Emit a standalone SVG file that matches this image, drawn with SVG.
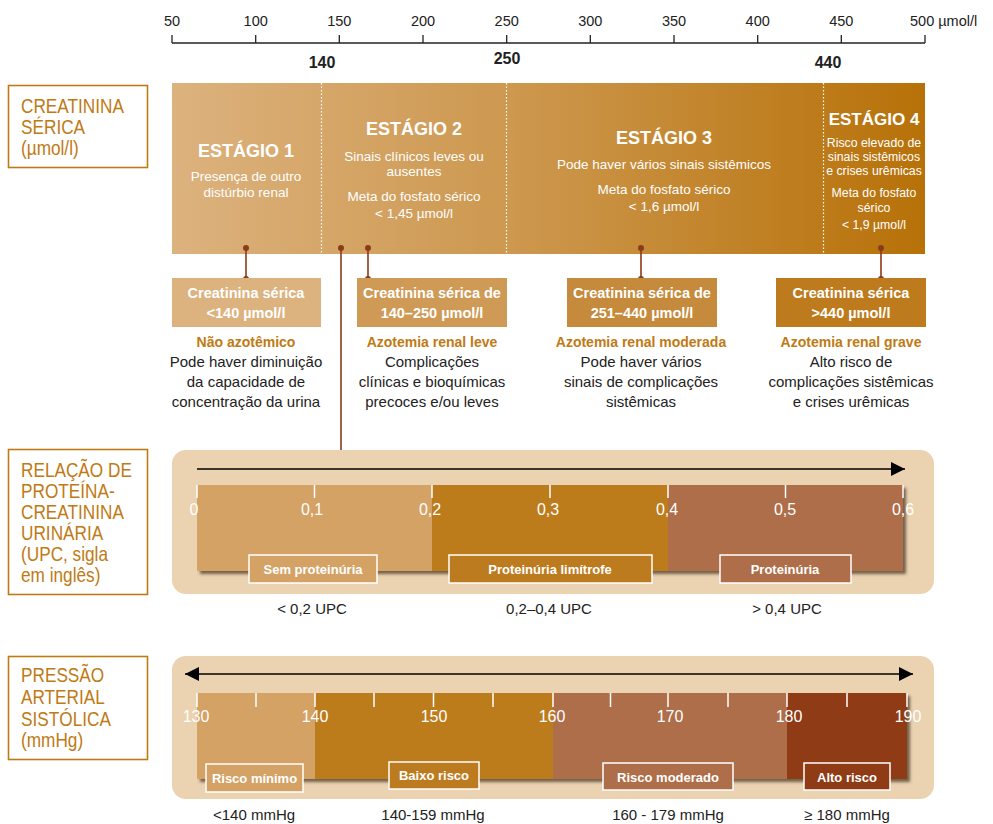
<svg xmlns="http://www.w3.org/2000/svg" width="993" height="824" viewBox="0 0 993 824">
<defs>
<linearGradient id="stg" x1="172" y1="0" x2="925" y2="0" gradientUnits="userSpaceOnUse">
<stop offset="0" stop-color="#dcb27e"/>
<stop offset="0.45" stop-color="#cd984f"/>
<stop offset="1" stop-color="#b77108"/>
</linearGradient>
<filter id="sh" x="-5%" y="-10%" width="115%" height="130%">
<feDropShadow dx="3" dy="3" stdDeviation="1.5" flood-color="#4a3a2a" flood-opacity="0.75"/>
</filter>
<marker id="ah" viewBox="0 0 10 10" refX="10" refY="5" markerWidth="18" markerHeight="14" markerUnits="userSpaceOnUse" orient="auto-start-reverse">
<path d="M0,0 L10,5 L0,10 z" fill="#000"/>
</marker>
</defs>
<style>
text{font-family:"Liberation Sans",Arial,sans-serif;}
.ax{font-size:14.5px;fill:#222;text-anchor:middle;}
.axb{font-size:16px;font-weight:bold;fill:#222;text-anchor:middle;}
.lbl{font-size:21px;fill:#c07a14;}
.lbox{fill:#fff;stroke:#c07a14;stroke-width:1.6;}
.sh{font-size:18px;font-weight:bold;fill:#fff;text-anchor:middle;}
.st{font-size:13.5px;fill:#fff;text-anchor:middle;}
.st4{font-size:12.3px;fill:#fff;text-anchor:middle;}
.bt{font-size:14.5px;font-weight:bold;fill:#fff;text-anchor:middle;}
.ti{font-size:14px;font-weight:bold;fill:#c07a14;text-anchor:middle;}
.bd{font-size:15px;fill:#222;text-anchor:middle;}
.num{font-size:16px;fill:#fff;text-anchor:middle;}
.tag{font-size:13px;font-weight:bold;fill:#fff;text-anchor:middle;}
.tagr{stroke:#fff;stroke-width:1.5;}
.und{font-size:15px;fill:#222;text-anchor:middle;}
.tk{stroke:#fff;stroke-width:1.5;}
.con{stroke:#8b3a1a;stroke-width:1.6;fill:none;}
.dot{fill:#8b3a1a;}
.div{stroke:#fff;stroke-width:1.2;stroke-dasharray:1.5 2;}
</style>

<!-- top axis -->
<g id="axis">
<line x1="172" y1="43" x2="925" y2="43" stroke="#222" stroke-width="1.3"/>
<g stroke="#222" stroke-width="1.3">
<line x1="172" y1="35" x2="172" y2="43"/><line x1="255.7" y1="35" x2="255.7" y2="43"/><line x1="339.3" y1="35" x2="339.3" y2="43"/><line x1="423" y1="35" x2="423" y2="43"/><line x1="506.7" y1="35" x2="506.7" y2="43"/><line x1="590.3" y1="35" x2="590.3" y2="43"/><line x1="674" y1="35" x2="674" y2="43"/><line x1="757.7" y1="35" x2="757.7" y2="43"/><line x1="841.3" y1="35" x2="841.3" y2="43"/><line x1="925" y1="35" x2="925" y2="43"/>
</g>
<text class="ax" x="172" y="26">50</text><text class="ax" x="255.7" y="26">100</text><text class="ax" x="339.3" y="26">150</text><text class="ax" x="423" y="26">200</text><text class="ax" x="506.7" y="26">250</text><text class="ax" x="590.3" y="26">300</text><text class="ax" x="674" y="26">350</text><text class="ax" x="757.7" y="26">400</text><text class="ax" x="841.3" y="26">450</text>
<text x="910" y="26" style="font-size:14.5px;fill:#222;">500 µmol/l</text>
<text class="axb" x="322" y="68">140</text>
<text class="axb" x="507" y="64">250</text>
<text class="axb" x="828" y="68">440</text>
</g>

<!-- left labels -->
<g id="label-creatinina">
<rect class="lbox" x="8.5" y="85.5" width="139" height="82"/>
<text class="lbl" transform="translate(21,113) scale(0.82,1)">CREATININA</text>
<text class="lbl" transform="translate(21,134) scale(0.82,1)">SÉRICA</text>
<text class="lbl" transform="translate(21,155) scale(0.82,1)">(µmol/l)</text>
</g>
<g id="label-upc">
<rect class="lbox" x="8.5" y="449.5" width="139" height="145"/>
<text class="lbl" transform="translate(21,477) scale(0.82,1)">RELAÇÃO DE</text>
<text class="lbl" transform="translate(21,498) scale(0.82,1)">PROTEÍNA-</text>
<text class="lbl" transform="translate(21,519) scale(0.82,1)">CREATININA</text>
<text class="lbl" transform="translate(21,540) scale(0.82,1)">URINÁRIA</text>
<text class="lbl" transform="translate(21,561) scale(0.82,1)">(UPC, sigla</text>
<text class="lbl" transform="translate(21,582) scale(0.82,1)">em inglês)</text>
</g>
<g id="label-pressao">
<rect class="lbox" x="8.5" y="656.5" width="139" height="103"/>
<text class="lbl" transform="translate(21,682) scale(0.82,1)">PRESSÃO</text>
<text class="lbl" transform="translate(21,704) scale(0.82,1)">ARTERIAL</text>
<text class="lbl" transform="translate(21,726) scale(0.82,1)">SISTÓLICA</text>
<text class="lbl" transform="translate(21,747) scale(0.82,1)">(mmHg)</text>
</g>

<!-- stage bar -->
<g id="stages">
<rect x="172" y="83" width="753" height="171" fill="url(#stg)"/>
<line class="div" x1="321.5" y1="83" x2="321.5" y2="254"/>
<line class="div" x1="506.5" y1="83" x2="506.5" y2="254"/>
<line class="div" x1="823.5" y1="83" x2="823.5" y2="254"/>
</g>
<g id="stage1">
<text class="sh" x="246" y="157">ESTÁGIO 1</text>
<text class="st" x="246" y="181">Presença de outro</text>
<text class="st" x="246" y="197">distúrbio renal</text>
</g>
<g id="stage2">
<text class="sh" x="414" y="135">ESTÁGIO 2</text>
<text class="st" x="414" y="161">Sinais clínicos leves ou</text>
<text class="st" x="414" y="176">ausentes</text>
<text class="st" x="414" y="201">Meta do fosfato sérico</text>
<text class="st" x="414" y="218">&lt; 1,45 µmol/l</text>
</g>
<g id="stage3">
<text class="sh" x="664" y="144">ESTÁGIO 3</text>
<text class="st" x="664" y="169">Pode haver vários sinais sistêmicos</text>
<text class="st" x="664" y="194">Meta do fosfato sérico</text>
<text class="st" x="664" y="211">&lt; 1,6 µmol/l</text>
</g>
<g id="stage4">
<text class="sh" x="874" y="125" style="font-size:17px">ESTÁGIO 4</text>
<text class="st4" x="874" y="147">Risco elevado de</text>
<text class="st4" x="874" y="161">sinais sistêmicos</text>
<text class="st4" x="874" y="175">e crises urêmicas</text>
<text class="st4" x="874" y="197">Meta do fosfato</text>
<text class="st4" x="874" y="212">sérico</text>
<text class="st4" x="874" y="229">&lt; 1,9 µmol/l</text>
</g>

<!-- connectors -->
<g id="connectors">
<line class="con" x1="246" y1="248" x2="246" y2="279"/>
<line class="con" x1="368" y1="248" x2="368" y2="279"/>
<line class="con" x1="641" y1="248" x2="641" y2="279"/>
<line class="con" x1="881" y1="248" x2="881" y2="279"/>
<line class="con" x1="341" y1="248" x2="341" y2="450"/>
<circle class="dot" cx="246" cy="248" r="3"/><circle class="dot" cx="246" cy="279" r="3"/>
<circle class="dot" cx="368" cy="248" r="3"/><circle class="dot" cx="368" cy="279" r="3"/>
<circle class="dot" cx="641" cy="248" r="3"/><circle class="dot" cx="641" cy="279" r="3"/>
<circle class="dot" cx="881" cy="248" r="3"/><circle class="dot" cx="881" cy="279" r="3"/>
<circle class="dot" cx="341" cy="248" r="3"/>
</g>

<!-- creatinine boxes -->
<g id="box1">
<rect x="172" y="278" width="149" height="49" fill="#dcb27e"/>
<text class="bt" x="246" y="298">Creatinina sérica</text>
<text class="bt" x="246" y="318">&lt;140 µmol/l</text>
<text class="ti" x="246" y="347">Não azotêmico</text>
<text class="bd" x="246" y="367">Pode haver diminuição</text>
<text class="bd" x="246" y="387">da capacidade de</text>
<text class="bd" x="246" y="407">concentração da urina</text>
</g>
<g id="box2">
<rect x="357" y="278" width="150" height="49" fill="#cf9a56"/>
<text class="bt" x="432" y="298">Creatinina sérica de</text>
<text class="bt" x="432" y="318">140–250 µmol/l</text>
<text class="ti" x="432" y="347">Azotemia renal leve</text>
<text class="bd" x="432" y="367">Complicações</text>
<text class="bd" x="432" y="387">clínicas e bioquímicas</text>
<text class="bd" x="432" y="407">precoces e/ou leves</text>
</g>
<g id="box3">
<rect x="567" y="278" width="150" height="49" fill="#c58a3b"/>
<text class="bt" x="642" y="298">Creatinina sérica de</text>
<text class="bt" x="642" y="318">251–440 µmol/l</text>
<text class="ti" x="641" y="347">Azotemia renal moderada</text>
<text class="bd" x="641" y="367">Pode haver vários</text>
<text class="bd" x="641" y="387">sinais de complicações</text>
<text class="bd" x="641" y="407">sistêmicas</text>
</g>
<g id="box4">
<rect x="776" y="278" width="150" height="49" fill="#bd7b1d"/>
<text class="bt" x="851" y="298">Creatinina sérica</text>
<text class="bt" x="851" y="318">&gt;440 µmol/l</text>
<text class="ti" x="851" y="347">Azotemia renal grave</text>
<text class="bd" x="851" y="367">Alto risco de</text>
<text class="bd" x="851" y="387">complicações sistêmicas</text>
<text class="bd" x="851" y="407">e crises urêmicas</text>
</g>

<!-- UPC panel -->
<g id="upc">
<rect x="172" y="450" width="762" height="144" rx="14" fill="#ebd2b0"/>
<line x1="197" y1="469" x2="905" y2="469" stroke="#000" stroke-width="1.5" marker-end="url(#ah)"/>
<g filter="url(#sh)">
<rect x="197" y="485" width="235" height="86" fill="#d4a265"/>
<rect x="432" y="485" width="236" height="86" fill="#bd7b1f"/>
<rect x="668" y="485" width="235" height="86" fill="#ad6e49"/>
</g>
<g class="tk">
<line x1="197" y1="485" x2="197" y2="498"/><line x1="314.5" y1="485" x2="314.5" y2="498"/><line x1="432" y1="485" x2="432" y2="498"/><line x1="550" y1="485" x2="550" y2="498"/><line x1="668" y1="485" x2="668" y2="498"/><line x1="785.5" y1="485" x2="785.5" y2="498"/><line x1="903" y1="485" x2="903" y2="498"/>
</g>
<text class="num" x="194" y="515">0</text><text class="num" x="312" y="515">0,1</text><text class="num" x="430" y="515">0,2</text><text class="num" x="548" y="515">0,3</text><text class="num" x="667" y="515">0,4</text><text class="num" x="785" y="515">0,5</text><text class="num" x="903" y="515">0,6</text>
<rect class="tagr" x="249" y="555" width="128" height="28" fill="#d4a265"/>
<text class="tag" x="313" y="574">Sem proteinúria</text>
<rect class="tagr" x="449" y="555" width="203" height="28" fill="#bd7b1f"/>
<text class="tag" x="550" y="574">Proteinúria limítrofe</text>
<rect class="tagr" x="720" y="555" width="131" height="28" fill="#ad6e49"/>
<text class="tag" x="785" y="574">Proteinúria</text>
<text class="und" x="312" y="614">&lt; 0,2 UPC</text>
<text class="und" x="549" y="614">0,2–0,4 UPC</text>
<text class="und" x="787" y="614">&gt; 0,4 UPC</text>
</g>

<!-- Pressure panel -->
<g id="pressao">
<rect x="172" y="656" width="762" height="143" rx="14" fill="#ebd2b0"/>
<line x1="185" y1="674" x2="913" y2="674" stroke="#000" stroke-width="1.5" marker-start="url(#ah)" marker-end="url(#ah)"/>
<g filter="url(#sh)">
<rect x="197" y="693" width="118" height="86" fill="#d4a265"/>
<rect x="315" y="693" width="238" height="86" fill="#bd7b1f"/>
<rect x="553" y="693" width="234" height="86" fill="#ad6e49"/>
<rect x="787" y="693" width="120" height="86" fill="#8e3b16"/>
</g>
<g class="tk">
<line x1="197" y1="693" x2="197" y2="707"/><line x1="256" y1="693" x2="256" y2="707"/><line x1="315" y1="693" x2="315" y2="707"/><line x1="374" y1="693" x2="374" y2="707"/><line x1="433.5" y1="693" x2="433.5" y2="707"/><line x1="493" y1="693" x2="493" y2="707"/><line x1="553" y1="693" x2="553" y2="707"/><line x1="610.5" y1="693" x2="610.5" y2="707"/><line x1="668" y1="693" x2="668" y2="707"/><line x1="728" y1="693" x2="728" y2="707"/><line x1="787" y1="693" x2="787" y2="707"/><line x1="847" y1="693" x2="847" y2="707"/><line x1="907" y1="693" x2="907" y2="707"/>
</g>
<text class="num" x="196" y="722">130</text><text class="num" x="315" y="722">140</text><text class="num" x="434" y="722">150</text><text class="num" x="552" y="722">160</text><text class="num" x="670" y="722">170</text><text class="num" x="789" y="722">180</text><text class="num" x="908" y="722">190</text>
<rect class="tagr" x="206" y="764" width="97" height="28" fill="#d4a265"/>
<text class="tag" x="254.5" y="783">Risco mínimo</text>
<rect class="tagr" x="389" y="762" width="90" height="27" fill="#bd7b1f"/>
<text class="tag" x="434" y="780">Baixo risco</text>
<rect class="tagr" x="603" y="763" width="130" height="27" fill="#ad6e49"/>
<text class="tag" x="668" y="782">Risco moderado</text>
<rect class="tagr" x="804" y="763" width="86" height="27" fill="#8e3b16"/>
<text class="tag" x="847" y="782">Alto risco</text>
<text class="und" x="254" y="820">&lt;140 mmHg</text>
<text class="und" x="433" y="820">140-159 mmHg</text>
<text class="und" x="668" y="820">160 - 179 mmHg</text>
<text class="und" x="847" y="820">≥ 180 mmHg</text>
</g>
</svg>
